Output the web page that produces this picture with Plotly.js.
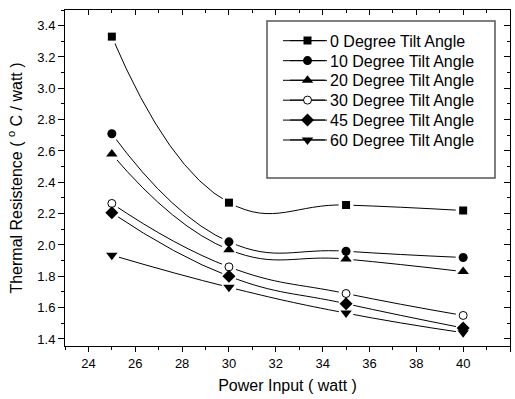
<!DOCTYPE html>
<html><head><meta charset="utf-8">
<script src="https://cdn.plot.ly/plotly-3.0.1.min.js"></script>
<style>html,body{margin:0;padding:0;background:#fff}#chart{width:515px;height:399px}</style>
</head><body><div id="chart"></div>
<script>
const power = [25, 30, 35, 40];
const names = ["0 Degree Tilt Angle","10 Degree Tilt Angle","20 Degree Tilt Angle","30 Degree Tilt Angle","45 Degree Tilt Angle","60 Degree Tilt Angle"];
const tilt0  = [3.33, 2.27, 2.255, 2.22];
const tilt10 = [2.71, 2.02, 1.96, 1.92];
const tilt20 = [2.58, 1.97, 1.91, 1.83];
const tilt30 = [2.265, 1.86, 1.69, 1.55];
const tilt45 = [2.205, 1.80, 1.625, 1.47];
const tilt60 = [1.935, 1.73, 1.565, 1.44];
const series = [tilt0, tilt10, tilt20, tilt30, tilt45, tilt60];
const symbols = ["square","circle","triangle-up","circle-open","diamond","triangle-down"];
const sizes = [8, 9, 10, 8, 10, 10];
const xTicks = [24,26,28,30,32,34,36,38,40,42];

// plot area in pixels
const L = 65, R = 510, T = 10, B = 346;
const px = v => (v - L) / (R - L);
const py = v => (B - v) / (B - T);
const legendY = [40.7, 60.7, 80.3, 100.2, 120.1, 140];

function mk(i) {
  if (symbols[i] === 'circle-open') return {symbol: 'circle', size: 8, color: '#fff', line: {color: '#000', width: 1}};
  return {symbol: symbols[i], size: sizes[i], color: '#000', line: {width: 0}};
}

const traces = [];
series.forEach((ys, i) => {
  traces.push({x: power, y: ys, name: names[i], mode: 'lines+markers', type: 'scatter',
    line: {shape: 'spline', smoothing: 1.3, color: '#000', width: 1},
    marker: mk(i), legend: i ? 'legend' + (i + 1) : 'legend', cliponaxis: false});
});
series.forEach((ys, i) => {
  traces.push({x: power, y: ys, mode: 'markers', type: 'scatter', showlegend: false, hoverinfo: 'skip',
    marker: {symbol: 'circle', size: 15, color: '#fff'}, cliponaxis: false});
});
series.forEach((ys, i) => {
  traces.push({x: power, y: ys, mode: 'markers', type: 'scatter', showlegend: false,
    marker: mk(i), cliponaxis: false});
});

const font = {family: 'Liberation Sans, Arial, sans-serif', color: '#000'};
const layout = {
  width: 515, height: 399,
  margin: {l: 65, r: 5, t: 10, b: 53},
  paper_bgcolor: '#fff', plot_bgcolor: '#fff',
  font: Object.assign({size: 13}, font),
  showlegend: true,
  xaxis: {range: [23, 42], tickvals: xTicks, ticktext: xTicks.map(String), ticks: 'outside', ticklen: 5,
    tickwidth: 1, tickcolor: '#000', showline: true, linecolor: '#000', linewidth: 1, mirror: true,
    showgrid: false, zeroline: false,
    minor: {dtick: 1, tick0: 23, ticks: 'outside', ticklen: 3, tickcolor: '#000', showgrid: false},
    title: {text: 'Power Input ( watt )', font: Object.assign({size: 16}, font), standoff: 10}},
  yaxis: {range: [1.355, 3.5], dtick: 0.2, tick0: 1.4, tickformat: '.1f', ticks: 'outside', ticklen: 6,
    tickwidth: 1, tickcolor: '#000', showline: true, linecolor: '#000', linewidth: 1, mirror: true,
    showgrid: false, zeroline: false,
    minor: {dtick: 0.1, tick0: 1.4, ticks: 'outside', ticklen: 3, tickcolor: '#000', showgrid: false},
    title: {text: 'Thermal Resistence ( <sup>o</sup> C / watt )', font: Object.assign({size: 16}, font), standoff: 10}},
  xaxis2: {overlaying: 'x', side: 'top', range: [23, 42], tickvals: xTicks, ticks: 'inside', ticklen: 5,
    tickcolor: '#000', showticklabels: false, showgrid: false, zeroline: false, showline: false,
    minor: {dtick: 1, tick0: 23, ticks: 'inside', ticklen: 3, tickcolor: '#000', showgrid: false}},
  yaxis2: {overlaying: 'y', side: 'right', range: [1.355, 3.5], dtick: 0.2, tick0: 1.4, ticks: 'inside', ticklen: 6,
    tickcolor: '#000', showticklabels: false, showgrid: false, zeroline: false, showline: false,
    minor: {dtick: 0.1, tick0: 1.4, ticks: 'inside', ticklen: 3, tickcolor: '#000', showgrid: false}},
  shapes: [{type: 'rect', xref: 'paper', yref: 'paper',
    x0: px(267), x1: px(495), y0: py(178), y1: py(21),
    line: {color: '#555', width: 1.5}, fillcolor: 'rgba(0,0,0,0)', layer: 'below'}]
};
legendY.forEach((yc, i) => {
  const key = i ? 'legend' + (i + 1) : 'legend';
  layout[key] = {x: px(285), y: py(yc), xanchor: 'left', yanchor: 'middle', bgcolor: 'rgba(0,0,0,0)',
    borderwidth: 0, font: Object.assign({size: 16}, font), itemwidth: 35};
  layout.shapes.push({type: 'line', xref: 'paper', yref: 'paper', x0: px(283), x1: px(327),
    y0: py(yc), y1: py(yc), line: {color: '#000', width: 1}, layer: 'below'});
});
traces.push({x: [23], y: [1.355], xaxis: 'x2', yaxis: 'y2', mode: 'markers', marker: {opacity: 0}, showlegend: false, hoverinfo: 'skip'});
Plotly.newPlot('chart', traces, layout, {displayModeBar: false, staticPlot: true});
</script></body></html>
